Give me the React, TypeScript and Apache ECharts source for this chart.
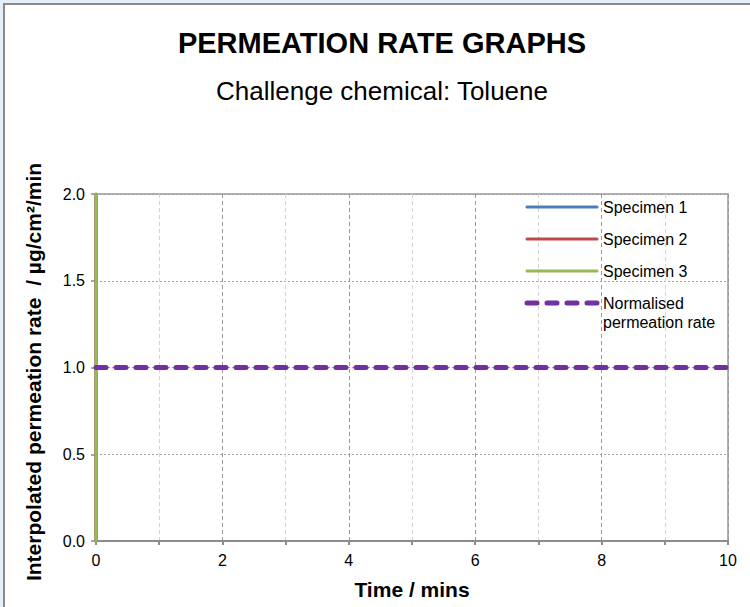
import React, { useEffect, useRef } from "react";
import * as echarts from "echarts";

const chartTitle = "PERMEATION RATE GRAPHS";
const chartSubtitle = "Challenge chemical: Toluene";
const xAxisName = "Time / mins";
const yAxisName = "Interpolated permeation rate  / µg/cm²/min";

const seriesNames = ["Specimen 1", "Specimen 2", "Specimen 3", "Normalised\npermeation rate"];
const seriesColors = ["#4a7ebb", "#be4b48", "#98b954", "#7030a0"];

// [time, rate]
const specimen1: number[][] = [[0, 0], [0, 2]];
const specimen2: number[][] = [[0, 0], [0, 2]];
const specimen3: number[][] = [[0, 0], [0, 2]];
const normalised: number[][] = [[0, 1], [10, 1]];

const xMin = 0, xMax = 10, xStep = 1;
const yMin = 0, yMax = 2, yStep = 0.5;

const FONT = "'Liberation Sans', Arial, sans-serif";

export default function App() {
  const ref = useRef<HTMLDivElement>(null);
  useEffect(() => {
    if (!ref.current) return;
    const chart = echarts.init(ref.current, null, { renderer: "svg" });
    const dataSets = [specimen1, specimen2, specimen3, normalised];

    const legendX = 527, legendTop = 207, legendGap = 32;
    const legendGraphics: any[] = [];
    seriesNames.forEach((name, i) => {
      const y = legendTop + i * legendGap;
      const dashed = i === 3;
      legendGraphics.push({
        type: "line",
        shape: { x1: legendX, y1: y, x2: legendX + 70, y2: y },
        style: {
          stroke: seriesColors[i],
          lineWidth: dashed ? 5 : 3,
          lineDash: dashed ? [10, 10] : null,
          lineCap: "round",
        },
        z: 10,
      });
      legendGraphics.push({
        type: "text",
        x: legendX + 76,
        y: y - 9,
        style: {
          text: name,
          fill: "#000",
          font: `16px ${FONT}`,
          lineHeight: 19,
          textAlign: "left",
          textVerticalAlign: "top",
        },
        z: 10,
      });
    });

    chart.setOption({
      animation: false,
      backgroundColor: "#ffffff",
      textStyle: { fontFamily: FONT },
      grid: {
        left: 96,
        right: 22,
        top: 194,
        bottom: 66,
        show: true,
        borderColor: "#999999",
        borderWidth: 1.5,
        backgroundColor: "transparent",
      },
      xAxis: {
        type: "value",
        min: xMin,
        max: xMax,
        interval: xStep,
        name: xAxisName,
        nameLocation: "middle",
        nameGap: 38,
        nameTextStyle: { fontSize: 21, fontWeight: "bold", color: "#000", fontFamily: FONT },
        axisLine: { show: true, onZero: false, lineStyle: { color: "#8c8c8c", width: 2 } },
        axisTick: { show: true, length: 4, lineStyle: { color: "#8c8c8c", width: 2 } },
        axisLabel: {
          color: "#000",
          fontSize: 16,
          margin: 11,
          formatter: (v: number) => (v % 2 === 0 ? String(v) : ""),
        },
        splitLine: {
          show: true,
          lineStyle: { color: ["#9a9a9a", "#d4d4d4"], type: [4, 3], width: 1 },
        },
      },
      yAxis: {
        type: "value",
        min: yMin,
        max: yMax,
        interval: yStep,
        name: yAxisName,
        nameLocation: "middle",
        nameGap: 52,
        nameTextStyle: { fontSize: 21, fontWeight: "bold", color: "#000", fontFamily: FONT, padding: [0, 9, 0, 0] },
        axisLine: { show: true, onZero: false, lineStyle: { color: "#8c8c8c", width: 2 } },
        axisTick: { show: true, length: 5, lineStyle: { color: "#8c8c8c", width: 1.5 } },
        axisLabel: {
          color: "#000",
          fontSize: 16,
          margin: 11,
          formatter: (v: number) => v.toFixed(1),
        },
        splitLine: {
          show: true,
          lineStyle: { color: "#a0a0a0", type: [2, 2], width: 1 },
        },
      },
      series: dataSets.map((d, i) => ({
        name: seriesNames[i],
        type: "line",
        data: d,
        showSymbol: false,
        symbol: "none",
        z: 3 + i,
        lineStyle: {
          color: seriesColors[i],
          width: i === 3 ? 5 : 3,
          type: i === 3 ? [10, 10] : "solid",
          cap: "round",
        },
      })),
      graphic: [
        {
          type: "rect",
          shape: { x: 0, y: 0, width: 750, height: 607 },
          style: { fill: "#e4f0f8" },
          z: -10,
          silent: true,
        },
        {
          type: "rect",
          shape: { x: 4, y: 4, width: 770, height: 620 },
          style: { fill: "#ffffff", stroke: "#8a8a8a", lineWidth: 2 },
          z: -9,
          silent: true,
        },
        {
          type: "text",
          x: 382,
          y: 43,
          style: {
            text: chartTitle,
            font: `bold 29px ${FONT}`,
            fill: "#000",
            textAlign: "center",
            textVerticalAlign: "middle",
          },
        },
        {
          type: "text",
          x: 382,
          y: 91,
          style: {
            text: chartSubtitle,
            font: `26px ${FONT}`,
            fill: "#000",
            textAlign: "center",
            textVerticalAlign: "middle",
          },
        },
        ...legendGraphics,
      ],
    });
    return () => chart.dispose();
  }, []);
  return (
    <div style={{ position: "fixed", left: 0, top: 0, width: 750, height: 607 }}>
      <div ref={ref} style={{ width: 750, height: 607 }} />
    </div>
  );
}
